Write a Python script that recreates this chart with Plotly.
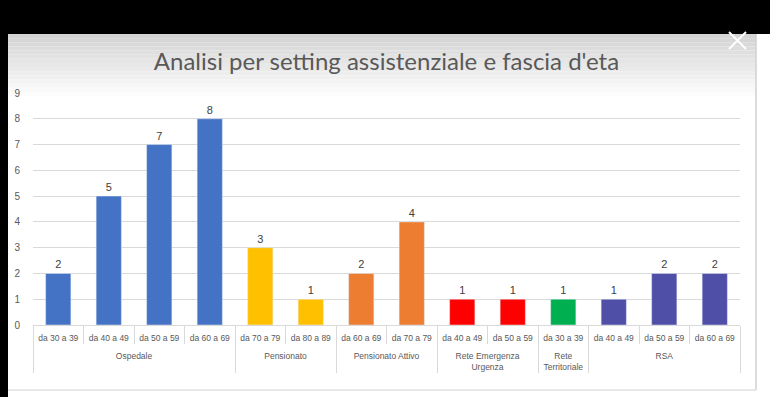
import plotly.graph_objects as go

groups = ["Ospedale"] * 4 + ["Pensionato"] * 2 + ["Pensionato Attivo"] * 2 + \
         ["Rete Emergenza<br>Urgenza"] * 2 + ["Rete<br>Territoriale"] + ["RSA"] * 3
ages = ["da 30 a 39", "da 40 a 49", "da 50 a 59", "da 60 a 69",
        "da 70 a 79", "da 80 a 89",
        "da 60 a 69", "da 70 a 79",
        "da 40 a 49", "da 50 a 59",
        "da 30 a 39",
        "da 40 a 49", "da 50 a 59", "da 60 a 69"]
values = [2, 5, 7, 8, 3, 1, 2, 4, 1, 1, 1, 1, 2, 2]
group_colors = {
    "Ospedale": "#4472C4",
    "Pensionato": "#FFC000",
    "Pensionato Attivo": "#ED7D31",
    "Rete Emergenza<br>Urgenza": "#FF0000",
    "Rete<br>Territoriale": "#00B050",
    "RSA": "#4F4FA8",
}
title = "Analisi per setting assistenziale e fascia d'eta"

W, H = 770, 397
L, R, T, B = 33, 30, 93, 72
pw, ph = W - L - R, H - T - B


def px(x):
    return (x - L) / pw


def py(y):
    return (H - B - y) / ph


group_text = ["<br>" + g for g in groups]

fig = go.Figure(go.Bar(
    x=[group_text, ages], y=values,
    marker_color=[group_colors[g] for g in groups],
    text=values, textposition="outside",
    textfont=dict(size=11, color="#404040", family="Liberation Sans"),
    cliponaxis=False,
))

shapes = []
top, bottom_grad = 34, 100
steps = 16
for i in range(steps):
    y0 = top + (bottom_grad - top) * i / steps
    y1 = top + (bottom_grad - top) * (i + 1) / steps
    v = int(212 + (255 - 212) * i / (steps - 1))
    shapes.append(dict(type="rect", xref="paper", yref="paper",
                       x0=px(8), x1=px(756), y0=py(y1), y1=py(y0),
                       fillcolor=f"rgb({v},{v},{v})", line_width=0, layer="below"))
shapes.append(dict(type="rect", xref="paper", yref="paper", x0=px(0), x1=px(W),
                   y0=py(34), y1=py(0), fillcolor="black", line_width=0))
shapes.append(dict(type="rect", xref="paper", yref="paper", x0=px(0), x1=px(8),
                   y0=py(H), y1=py(34), fillcolor="black", line_width=0))
shapes.append(dict(type="line", xref="paper", yref="paper", x0=px(756), x1=px(756),
                   y0=py(390), y1=py(34), line=dict(color="#d0d0d0", width=1.5)))
shapes.append(dict(type="line", xref="paper", yref="paper", x0=px(8), x1=px(756),
                   y0=py(390), y1=py(390), line=dict(color="#e0e0e0", width=1.5)))
shapes.append(dict(type="line", xref="paper", yref="paper", x0=px(729), x1=px(746),
                   y0=py(32), y1=py(49), line=dict(color="white", width=2)))
shapes.append(dict(type="line", xref="paper", yref="paper", x0=px(746), x1=px(729),
                   y0=py(32), y1=py(49), line=dict(color="white", width=2)))

fig.update_layout(
    width=W, height=H,
    margin=dict(l=L, r=R, t=T, b=B, autoexpand=False),
    paper_bgcolor="white", plot_bgcolor="rgba(0,0,0,0)",
    bargap=0.5,
    showlegend=False,
    shapes=shapes,
    title=dict(text=title, x=0.5, xref="paper", xanchor="center",
               y=1 - 62 / H, yanchor="middle",
               font=dict(family="Lato", size=24, color="#595959")),
    yaxis=dict(range=[0, 9], dtick=1, showgrid=True, gridcolor="#d9d9d9",
               zeroline=False, tickfont=dict(size=10, color="#595959", family="Liberation Sans"),
               ticks="", ticklabelstandoff=12, fixedrange=True, automargin=False),
    xaxis=dict(type="multicategory", showline=True, linecolor="#d9d9d9",
               tickangle=0, automargin=False, ticklabelstandoff=5,
               tickfont=dict(size=8.5, color="#595959", family="Liberation Sans"),
               showdividers=True, dividercolor="#d9d9d9", dividerwidth=1,
               ticks="outside", tickcolor="#d9d9d9", ticklen=18),
)

fig.write_html("out.html", config={"displayModeBar": False},
               post_script="document.body.style.margin='0';")
